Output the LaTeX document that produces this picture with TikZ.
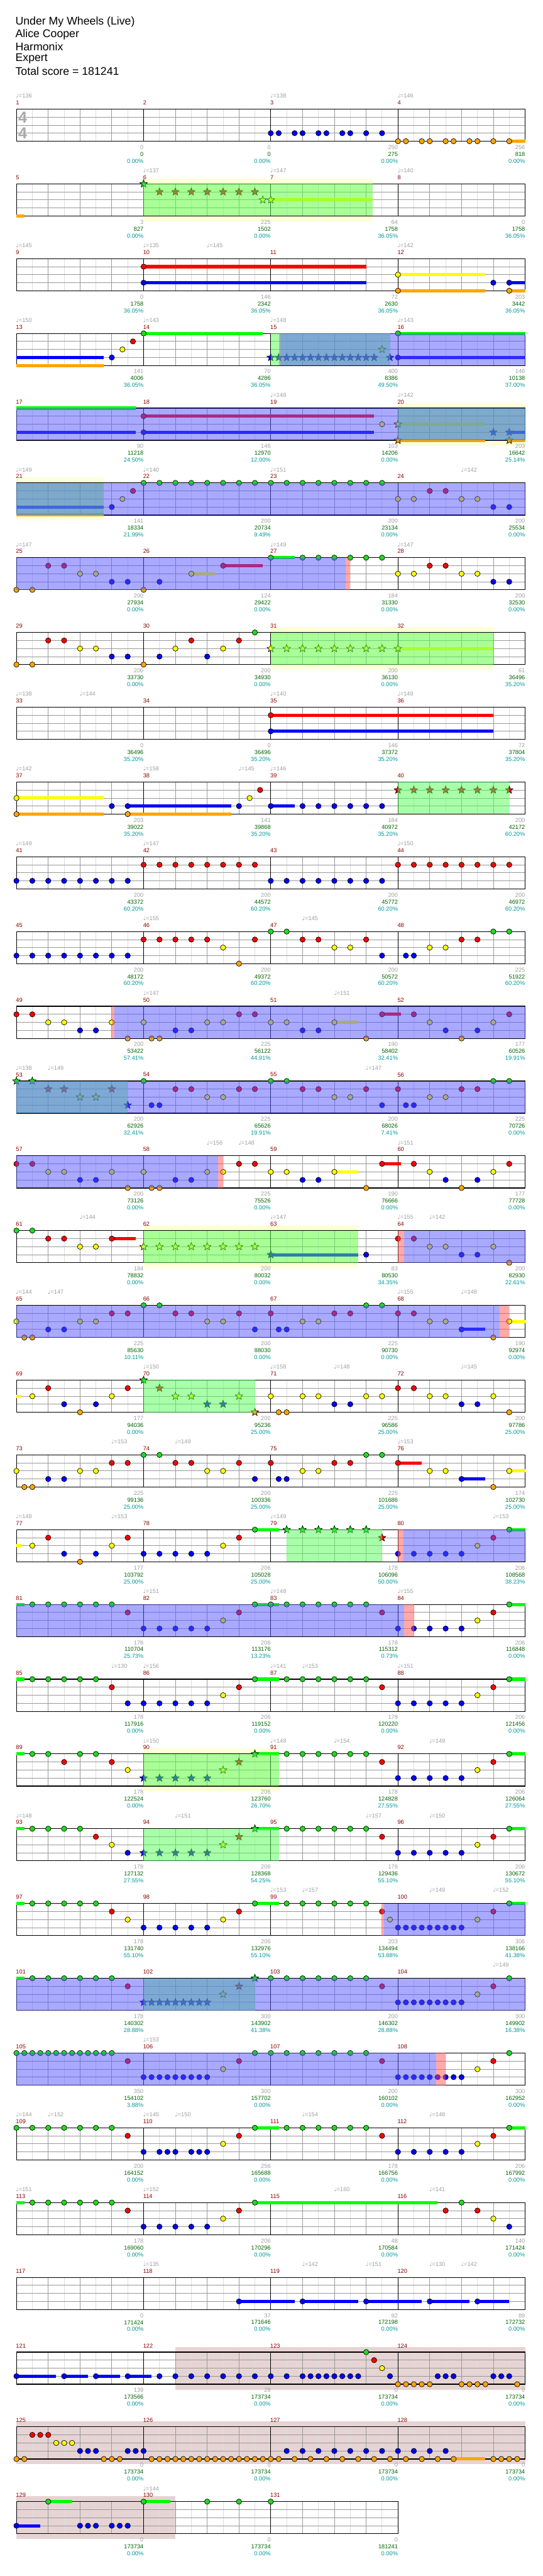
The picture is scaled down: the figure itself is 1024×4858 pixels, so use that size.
\documentclass[tikz,border=0pt]{standalone}
\usepackage{fontspec}
\setmainfont{Liberation Sans}
\newfontfamily\notefont{DejaVu Sans}
\usetikzlibrary{shapes.geometric}
\pgfdeclarelayer{back}
\pgfdeclarelayer{spLayer}
\pgfdeclarelayer{odLayer}
\pgfsetlayers{back,main,spLayer,odLayer}
\definecolor{gemGreen}{HTML}{1EDC1E}
\definecolor{gemRed}{HTML}{FF0000}
\definecolor{gemYellow}{HTML}{FFFF00}
\definecolor{gemBlue}{HTML}{0000FF}
\definecolor{gemOrange}{HTML}{FFA500}
\definecolor{holdGreen}{HTML}{00FF00}
\definecolor{lightGray}{HTML}{DDDDDD}
\definecolor{midGray}{HTML}{999999}
\definecolor{sigGray}{HTML}{AAAAAA}
\definecolor{barRed}{HTML}{8B0000}
\definecolor{tempoGray}{HTML}{A0A0A0}
\definecolor{scoreGreen}{HTML}{006400}
\definecolor{scoreCyan}{HTML}{009999}
\definecolor{haloYellow}{HTML}{FFFFD8}
\definecolor{soloRose}{HTML}{E6D4D4}
\definecolor{spGreen}{HTML}{55FF55}
\definecolor{odBlue}{HTML}{5555FF}
\definecolor{stopRed}{HTML}{FF5555}
\tikzset{
  gem0/.style={fill=gemGreen, draw=black, line width=0.8},
  gem1/.style={fill=gemRed, draw=black, line width=0.8},
  gem2/.style={fill=gemYellow, draw=black, line width=0.8},
  gem3/.style={fill=gemBlue, draw=black, line width=0.8},
  gem4/.style={fill=gemOrange, draw=black, line width=0.8},
  hold0/.style={draw=holdGreen, line width=6},
  hold1/.style={draw=gemRed, line width=6},
  hold2/.style={draw=gemYellow, line width=6},
  hold3/.style={draw=gemBlue, line width=6},
  hold4/.style={draw=gemOrange, line width=6},
  starnote/.style={star, star points=5, star point ratio=2.3, minimum size=15,
                   inner sep=0pt},
  gridLight/.style={draw=lightGray, line width=1},
  gridDark/.style={draw=midGray, line width=1},
  barLine/.style={draw=black, line width=1},
  staffEdge/.style={draw=black, line width=1.4},
  spFill/.style={fill=spGreen, fill opacity=0.5},
  odFill/.style={fill=odBlue, fill opacity=0.5},
  stopFill/.style={fill=stopRed, fill opacity=0.5},
  haloFill/.style={fill=haloYellow},
  soloFill/.style={fill=soloRose},
  barnum/.style={text=barRed, font=\fontsize{11}{11}\selectfont, inner sep=0pt, anchor=west},
  tempolbl/.style={text=tempoGray, font=\fontsize{11}{11}\selectfont, inner sep=0pt, anchor=west},
  lblGray/.style={text=tempoGray, font=\fontsize{11}{11}\selectfont, inner sep=0pt, anchor=east},
  lblGreen/.style={text=scoreGreen, font=\fontsize{11}{11}\selectfont, inner sep=0pt, anchor=east},
  lblCyan/.style={text=scoreCyan, font=\fontsize{11}{11}\selectfont, inner sep=0pt, anchor=east},
  titletext/.style={font=\fontsize{21}{21}\selectfont, inner sep=0pt, anchor=west},
  timesig/.style={text=sigGray, font=\bfseries\fontsize{30}{30}\selectfont, inner sep=0pt},
}
% one staff row: row index, number of measures
\newcommand\staff[2]{%
  \pgfmathsetmacro\ty{205.7+141*#1}%
  \pgfmathsetmacro\xr{31+240*#2}%
  \pgfmathtruncatemacro\nk{8*#2}%
  \pgfmathtruncatemacro\nm{#2-1}%
  \draw[gridLight] foreach \k in {1,3,...,\nk} {(31+30*\k,\ty) -- ++(0,60.6)};%
  \draw[gridDark] foreach \k in {2,4,...,\nk} {(31+30*\k,\ty) -- ++(0,60.6)};%
  \draw[gridDark] foreach \l in {1,2,3} {(31,\ty+15.15*\l) -- (\xr,\ty+15.15*\l)};%
  \draw[barLine] foreach \m in {1,...,\nm} {(31+240*\m,\ty) -- ++(0,60.6)};%
  \draw[staffEdge] (31,\ty) rectangle (\xr,\ty+60.6);%
  \foreach \m in {1,...,#2}{%
    \pgfmathtruncatemacro\mn{4*#1+\m}%
    \node[barnum] (bar\mn) at (30+240*\m-240,\ty-12) {\mn};}%
}
% notes: row, lane, positions in eighths
\newcommand\gems[3]{%
  \pgfmathsetmacro\gy{205.7+141*#1+15.15*#2}%
  \foreach \p in {#3}{\filldraw[gem#2] (31+30*\p,\gy) circle[radius=5pt];}}
\newcommand\hold[4]{%
  \pgfmathsetmacro\gy{205.7+141*#1+15.15*#2}%
  \draw[hold#2] (31+30*#3,\gy) -- (31+30*#4,\gy);}
\newcommand\starset[3]{%
  \pgfmathsetmacro\gy{205.7+141*#1+15.15*#2}%
  \foreach \p [count=\idx] in {#3}{%
    \node[starnote, gem#2] (star-#1-#2-\idx) at (31+30*\p,\gy) {};}}
% shaded zones
\newcommand\spzone[3]{\pgfmathsetmacro\ty{205.7+141*#1}%
  \begin{pgfonlayer}{spLayer}\fill[spFill] (31+30*#2,\ty) rectangle (31+30*#3,\ty+60.6);\end{pgfonlayer}}
\newcommand\odrive[3]{\pgfmathsetmacro\ty{205.7+141*#1}%
  \begin{pgfonlayer}{odLayer}\fill[odFill] (31+30*#2,\ty) rectangle (31+30*#3,\ty+60.6);\end{pgfonlayer}}
\newcommand\redzone[3]{\pgfmathsetmacro\ty{205.7+141*#1}%
  \begin{pgfonlayer}{odLayer}\fill[stopFill] (31+30*#2,\ty) rectangle (31+30*#3,\ty+60.6);\end{pgfonlayer}}
\newcommand\halo[3]{\pgfmathsetmacro\ty{205.7+141*#1}%
  \begin{pgfonlayer}{back}\fill[haloFill] (31+30*#2,\ty-10) rectangle (31+30*#3,\ty+70.6);\end{pgfonlayer}}
\newcommand\solo[3]{\pgfmathsetmacro\ty{205.7+141*#1}%
  \begin{pgfonlayer}{back}\fill[soloFill] (31+30*#2,\ty-10) rectangle (31+30*#3,\ty+70.6);\end{pgfonlayer}}
% labels under and above the staff
\newcommand\scores[2]{%
  \pgfmathsetmacro\ty{205.7+141*#1}%
  \foreach \ga/\sc/\pc [count=\idx] in {#2}{%
    \pgfmathtruncatemacro\mn{4*#1+\idx}%
    \node[lblGray] (gain\mn) at (31+240*\idx,\ty+72) {\ga};%
    \node[lblGreen] (total\mn) at (31+240*\idx,\ty+85) {\sc};%
    \node[lblCyan] (pct\mn) at (31+240*\idx,\ty+98) {\pc\%};}}
\newcommand\tempos[2]{%
  \pgfmathsetmacro\ty{205.7+141*#1}%
  \foreach \tp/\bpm [count=\idx] in {#2}{%
    \node[tempolbl] (tempo-#1-\idx) at (30+30*\tp,\ty-25) {{\notefont ♩}=\bpm};}}

\begin{document}
\begin{tikzpicture}[x=1pt, y=-1pt]
  \useasboundingbox (0,0) rectangle (1024,4858);
  \begin{pgfonlayer}{back}\fill[white] (0,0) rectangle (1024,4858);\end{pgfonlayer}

  % header
  \node[titletext] (song) at (29,41.7) {Under My Wheels (Live)};
  \node[titletext] (artist) at (29,65) {Alice Cooper};
  \node[titletext] (charter) at (29,88.3) {Harmonix};
  \node[titletext] (level) at (29,111) {Expert};
  \node[titletext] (total) at (29,134) {Total score = 181241};

  % row 0: measures 1-4
  \staff{0}{4}
  \node[timesig] (sigTop) at (43,221) {4};
  \node[timesig] (sigBot) at (43,251) {4};
  \gems{0}{3}{16,16.5,17.5,18,19,19.5,20.5,21,22,23}
  \hold{0}{4}{31}{32}
  \gems{0}{4}{24,24.5,25.5,26,27,27.5,28.5,29,30,31}
  \scores{0}{0/0/0.00,0/0/0.00,250/275/0.00,256/818/0.00}
  \tempos{0}{0/136,16/138,24/146}

  % row 1: measures 5-8
  \halo{1}{8}{22.4}
  \staff{1}{4}
  \hold{1}{4}{0}{0.5}
  \starset{1}{0}{8}
  \starset{1}{1}{9,...,15}
  \hold{1}{2}{16}{22.4}
  \starset{1}{2}{15.5,16}
  \spzone{1}{8}{22.4}
  \scores{1}{3/827/0.00,225/1502/0.00,64/1758/36.05,0/1758/36.05}
  \tempos{1}{8/137,16/147,24/140}

  % row 2: measures 9-12
  \staff{2}{4}
  \hold{2}{1}{8}{22} \gems{2}{1}{8}
  \hold{2}{3}{8}{22} \gems{2}{3}{8}
  \hold{2}{2}{24}{29.5} \gems{2}{2}{24}
  \hold{2}{4}{24}{29.5} \gems{2}{4}{24}
  \hold{2}{3}{31}{32} \gems{2}{3}{30,31}
  \hold{2}{4}{31}{32} \gems{2}{4}{31}
  \scores{2}{0/1758/36.05,146/2342/36.05,72/2630/36.05,203/3442/36.05}
  \tempos{2}{0/145,8/135,12/145,24/142}

  % row 3: measures 13-16
  \staff{3}{4}
  \hold{3}{3}{0}{5.5} \hold{3}{4}{0}{5.5}
  \gems{3}{3}{6} \gems{3}{2}{6.67} \gems{3}{1}{7.33}
  \hold{3}{0}{8}{15.5} \gems{3}{0}{8}
  \starset{3}{3}{16,16.5,...,22.5}
  \starset{3}{2}{23} \starset{3}{3}{23.5}
  \hold{3}{3}{24}{32} \gems{3}{3}{24}
  \hold{3}{0}{24}{32} \gems{3}{0}{24}
  \spzone{3}{16}{23.5}
  \redzone{3}{16.5}{16.6}
  \odrive{3}{16.6}{32}
  \scores{3}{141/4006/36.05,70/4286/36.05,400/8386/49.50,146/10138/37.00}
  \tempos{3}{0/150,8/143,16/148,24/143}

  % row 4: measures 17-20
  \halo{4}{24}{32}
  \staff{4}{4}
  \hold{4}{0}{0}{7.5} \hold{4}{3}{0}{7.5}
  \hold{4}{1}{8}{22.5} \gems{4}{1}{8}
  \hold{4}{3}{8}{22.5} \gems{4}{3}{8}
  \gems{4}{2}{23}
  \hold{4}{2}{24}{29.5} \starset{4}{2}{24}
  \hold{4}{4}{24}{29.5} \starset{4}{4}{24}
  \hold{4}{3}{31}{32} \starset{4}{3}{30,31}
  \hold{4}{4}{31}{32} \starset{4}{4}{31}
  \spzone{4}{24}{32}
  \odrive{4}{0}{32}
  \scores{4}{90/11218/24.50,146/12970/12.00,103/14206/0.00,203/16642/25.14}
  \tempos{4}{16/148,24/142}

  % row 5: measures 21-24
  \halo{5}{0}{5.5}
  \staff{5}{4}
  \hold{5}{3}{0}{5.5} \hold{5}{4}{0}{5.5}
  \gems{5}{3}{6} \gems{5}{2}{6.67} \gems{5}{1}{7.33}
  \gems{5}{0}{8,...,23}
  \gems{5}{2}{24,25,28,29} \gems{5}{1}{26,27} \gems{5}{3}{30,31}
  \spzone{5}{0}{5.5}
  \odrive{5}{0}{32}
  \scores{5}{141/18334/21.99,200/20734/9.49,200/23134/0.00,200/25534/0.00}
  \tempos{5}{0/149,8/140,16/151,28/142}

  % row 6: measures 25-28
  \staff{6}{4}
  \gems{6}{4}{0,1,8} \gems{6}{1}{2,3} \gems{6}{2}{4,5} \gems{6}{3}{6,7,9}
  \hold{6}{2}{11}{12.5} \gems{6}{2}{11}
  \hold{6}{1}{13}{15.5} \gems{6}{1}{13}
  \hold{6}{0}{16}{17.5} \gems{6}{0}{16,18,19,20,21,22,23}
  \gems{6}{2}{24,25,28,29} \gems{6}{1}{26,27} \gems{6}{3}{30,31}
  \odrive{6}{0}{20.7} \redzone{6}{20.7}{21}
  \scores{6}{200/27934/0.00,124/29422/0.00,184/31330/0.00,200/32530/0.00}
  \tempos{6}{0/147,16/149,24/147}

  % row 7: measures 29-32
  \halo{7}{16}{30}
  \staff{7}{4}
  \gems{7}{4}{0,1,8} \gems{7}{1}{2,3,11,14} \gems{7}{2}{4,5,10,13}
  \gems{7}{3}{6,7,9,12} \gems{7}{0}{15}
  \hold{7}{2}{24}{30} \starset{7}{2}{16,...,24}
  \spzone{7}{16}{30}
  \scores{7}{200/33730/0.00,200/34930/0.00,200/36130/0.00,61/36496/35.20}

  % row 8: measures 33-36
  \staff{8}{4}
  \hold{8}{1}{16}{30} \gems{8}{1}{16}
  \hold{8}{3}{16}{30} \gems{8}{3}{16}
  \scores{8}{0/36496/35.20,0/36496/35.20,146/37372/35.20,72/37804/35.20}
  \tempos{8}{0/138,4/144,16/140,24/149}

  % row 9: measures 37-40
  \staff{9}{4}
  \hold{9}{2}{0}{5.5} \gems{9}{2}{0}
  \hold{9}{4}{0}{5.5} \gems{9}{4}{0}
  \gems{9}{3}{6}
  \hold{9}{3}{7}{13.5} \gems{9}{3}{7}
  \hold{9}{4}{7}{13.5} \gems{9}{4}{7}
  \gems{9}{3}{14} \gems{9}{2}{14.67} \gems{9}{1}{15.33}
  \hold{9}{3}{16}{17.5} \gems{9}{3}{16,18,19,20,21,22,23}
  \starset{9}{1}{24,...,31}
  \spzone{9}{24}{31}
  \scores{9}{203/39022/35.20,141/39868/35.20,184/40972/35.20,200/42172/60.20}
  \tempos{9}{0/142,8/158,14/145,16/146}

  % row 10: measures 41-44
  \staff{10}{4}
  \gems{10}{3}{0,...,7} \gems{10}{1}{8,...,15}
  \gems{10}{3}{16,...,23} \gems{10}{1}{24,...,31}
  \scores{10}{200/43372/60.20,200/44572/60.20,200/45772/60.20,200/46972/60.20}
  \tempos{10}{0/149,8/147,24/150}

  % row 11: measures 45-48
  \staff{11}{4}
  \gems{11}{3}{0,...,7} \gems{11}{1}{8,...,12}
  \gems{11}{2}{13,20,21,26,27} \gems{11}{4}{14}
  \gems{11}{1}{15,18,19,22,28,29} \gems{11}{0}{16,17,30,31}
  \gems{11}{3}{23,24.5,25}
  \scores{11}{200/48172/60.20,200/49372/60.20,200/50572/60.20,225/51922/60.20}
  \tempos{11}{8/155,18/145}

  % row 12: measures 49-52
  \staff{12}{4}
  \gems{12}{1}{0,1,14,15,25,31}
  \gems{12}{2}{2,3,6,8,12,13,16,17,26,30}
  \gems{12}{3}{4,5,10,11,18,19,27,29}
  \gems{12}{4}{7,8.5,9,22,28}
  \hold{12}{2}{20}{21.5} \gems{12}{2}{20}
  \hold{12}{1}{23}{24.2} \gems{12}{1}{23}
  \redzone{12}{6}{6.15} \odrive{12}{6.15}{32}
  \scores{12}{200/53422/57.41,225/56122/44.91,190/58402/32.41,177/60526/19.91}
  \tempos{12}{8/147,20/151}

  % row 13: measures 53-56
  \staff{13}{4}
  \starset{13}{0}{0,1} \starset{13}{1}{2,3,6} \starset{13}{2}{4,5} \starset{13}{3}{7}
  \gems{13}{0}{8,16,17,30,31}
  \gems{13}{3}{8.5,9,23,24.5,25}
  \gems{13}{1}{10,11,14,15,18,19,22,24,28,29}
  \gems{13}{2}{12,13,20,21,26,27}
  \spzone{13}{0}{7} \odrive{13}{0}{32}
  \scores{13}{200/62926/32.41,225/65626/19.91,200/68026/7.41,225/70726/0.00}
  \tempos{13}{0/138,2/149,22/147}

  % row 14: measures 57-60
  \staff{14}{4}
  \gems{14}{1}{0,1,14,15,25,31}
  \gems{14}{2}{2,3,6,8,12,13,16,17,26,30}
  \gems{14}{3}{4,5,10,11,18,19,27,29}
  \gems{14}{4}{7,8.5,9,22,28}
  \hold{14}{2}{20}{21.5} \gems{14}{2}{20}
  \hold{14}{1}{23}{24.2} \gems{14}{1}{23}
  \odrive{14}{0}{12.7} \redzone{14}{12.7}{13}
  \scores{14}{200/73126/0.00,225/75526/0.00,190/76666/0.00,177/77728/0.00}
  \tempos{14}{12/156,14/148,24/151}

  % row 15: measures 61-64
  \halo{15}{8}{21.5}
  \staff{15}{4}
  \gems{15}{0}{0,1} \gems{15}{1}{2,3} \gems{15}{2}{4,5}
  \hold{15}{1}{6}{7.5} \gems{15}{1}{6}
  \starset{15}{2}{8,...,15}
  \hold{15}{3}{16}{21.5} \starset{15}{3}{16}
  \gems{15}{3}{22,28,29} \gems{15}{1}{24,25} \gems{15}{2}{26,27,30} \gems{15}{4}{31}
  \spzone{15}{8}{21.5}
  \redzone{15}{24}{24.4} \odrive{15}{24.4}{32}
  \scores{15}{184/78832/0.00,200/80032/0.00,83/80530/34.35,200/82930/22.61}
  \tempos{15}{4/144,16/147,24/155,26/142}

  % row 16: measures 65-68
  \staff{16}{4}
  \gems{16}{2}{0,4,5,12,13,18,19,26,27} \gems{16}{4}{0.5,1,30}
  \gems{16}{3}{2,3,15,16.5,17} \gems{16}{1}{6,7,10,11,14,16,20,21,24,25}
  \gems{16}{0}{8,9,22,23}
  \hold{16}{3}{28}{29.5} \gems{16}{3}{28}
  \hold{16}{2}{31}{32} \gems{16}{2}{31}
  \odrive{16}{0}{30.4} \redzone{16}{30.4}{31}
  \scores{16}{225/85630/10.11,200/88030/0.00,225/90730/0.00,190/92974/0.00}
  \tempos{16}{0/144,2/147,24/155,28/148}

  % row 17: measures 69-72
  \staff{17}{4}
  \hold{17}{2}{0}{0.3}
  \gems{17}{2}{1,6,16,18,19,22,23,26,27,30} \gems{17}{1}{2,7,24,25}
  \gems{17}{3}{3,5,20,21,28,29} \gems{17}{4}{4,16.5,17,31}
  \starset{17}{0}{8} \starset{17}{1}{9} \starset{17}{2}{10,11,14}
  \starset{17}{3}{12,13} \starset{17}{4}{15}
  \spzone{17}{8}{15}
  \scores{17}{177/94036/0.00,200/95236/25.00,225/96586/25.00,200/97786/25.00}
  \tempos{17}{8/150,16/158,20/148,28/145}

  % row 18: measures 73-76
  \staff{18}{4}
  \gems{18}{2}{0,4,5,12,13,18,19,26,27} \gems{18}{4}{0.5,1,30}
  \gems{18}{3}{2,3,15,16.5,17} \gems{18}{1}{6,7,10,11,14,16,20,21}
  \gems{18}{0}{8,9,22,23}
  \hold{18}{1}{24}{25.5} \gems{18}{1}{24}
  \hold{18}{3}{28}{29.5} \gems{18}{3}{28}
  \hold{18}{2}{31}{32} \gems{18}{2}{31}
  \scores{18}{225/99136/25.00,200/100336/25.00,225/101686/25.00,174/102730/25.00}
  \tempos{18}{6/153,10/149,24/153}

  % row 19: measures 77-80
  \staff{19}{4}
  \hold{19}{2}{0}{0.3}
  \gems{19}{2}{1,6,13,29} \gems{19}{1}{2,7,14,30}
  \gems{19}{3}{3,5,8,9,10,11,12,24,25,26,27,28} \gems{19}{4}{4}
  \hold{19}{0}{15}{16.5} \gems{19}{0}{15}
  \starset{19}{0}{17,...,22} \starset{19}{1}{23}
  \hold{19}{0}{31}{32} \gems{19}{0}{31}
  \spzone{19}{17}{23}
  \redzone{19}{24}{24.35} \odrive{19}{24.35}{32}
  \scores{19}{177/103792/25.00,206/105028/25.00,178/106096/50.00,206/108568/38.23}
  \tempos{19}{0/148,6/153,16/149,30/153}

  % row 20: measures 81-84
  \staff{20}{4}
  \hold{20}{0}{0}{0.5}
  \gems{20}{0}{1,...,6} \gems{20}{1}{7,14,23,30}
  \gems{20}{3}{8,...,12} \gems{20}{3}{24,...,28} \gems{20}{2}{13,29}
  \hold{20}{0}{15}{16.5} \gems{20}{0}{15,...,22}
  \hold{20}{0}{31}{32} \gems{20}{0}{31}
  \odrive{20}{0}{24.4} \redzone{20}{24.4}{25}
  \scores{20}{178/110704/25.73,206/113176/13.23,178/115312/0.73,206/116848/0.00}
  \tempos{20}{8/151,16/148,24/155}

  % row 21: measures 85-88
  \staff{21}{4}
  \hold{21}{0}{0}{0.5}
  \gems{21}{0}{1,...,5} \gems{21}{1}{6,14,23,30}
  \gems{21}{3}{7,...,12} \gems{21}{3}{24,...,28} \gems{21}{2}{13,29}
  \hold{21}{0}{15}{16.5} \gems{21}{0}{15,17,18,19,20,21,22}
  \hold{21}{0}{31}{32} \gems{21}{0}{31}
  \scores{21}{178/117916/0.00,206/119152/0.00,178/120220/0.00,206/121456/0.00}
  \tempos{21}{6/130,8/156,16/141,18/153,24/151}

  % row 22: measures 89-92
  \halo{22}{8}{16.5}
  \staff{22}{4}
  \hold{22}{0}{0}{0.5}
  \gems{22}{0}{1,2,4,5} \gems{22}{0}{17,...,22}
  \gems{22}{1}{3,6,23,30} \gems{22}{2}{7,29} \gems{22}{3}{24,...,28}
  \starset{22}{3}{8,...,12} \starset{22}{2}{13} \starset{22}{1}{14}
  \hold{22}{0}{15}{16.5} \starset{22}{0}{15}
  \hold{22}{0}{31}{32} \gems{22}{0}{31}
  \spzone{22}{8}{16.5}
  \scores{22}{178/122524/0.00,206/123760/26.70,178/124828/27.55,206/126064/27.55}
  \tempos{22}{8/150,16/148,20/154,26/149}

  % row 23: measures 93-96
  \staff{23}{4}
  \hold{23}{0}{0}{0.5}
  \gems{23}{0}{1,2,3,4} \gems{23}{0}{17,...,22}
  \gems{23}{1}{5,23,30} \gems{23}{2}{6,29} \gems{23}{3}{7} \gems{23}{3}{24,...,28}
  \starset{23}{3}{8,...,12} \starset{23}{2}{13} \starset{23}{1}{14}
  \hold{23}{0}{15}{16.5} \starset{23}{0}{15}
  \hold{23}{0}{31}{32} \gems{23}{0}{31}
  \spzone{23}{8}{16.5}
  \scores{23}{178/127132/27.55,206/128368/54.25,178/129436/55.10,206/130672/55.10}
  \tempos{23}{0/148,10/151,22/157,26/150}

  % row 24: measures 97-100
  \staff{24}{4}
  \hold{24}{0}{0}{0.5}
  \gems{24}{0}{1,...,5} \gems{24}{0}{17,...,22}
  \gems{24}{1}{6,14,23,30} \gems{24}{2}{7,13,23.5,29}
  \gems{24}{3}{8,...,12} \gems{24}{3}{24,24.5,...,28}
  \hold{24}{0}{15}{16.5} \gems{24}{0}{15}
  \hold{24}{0}{31}{32} \gems{24}{0}{31}
  \redzone{24}{22.96}{23.13} \odrive{24}{23.13}{32}
  \scores{24}{178/131740/55.10,206/132976/55.10,203/134494/53.88,306/138166/41.38}
  \tempos{24}{16/153,18/157,26/149,30/152}

  % row 25: measures 101-104
  \staff{25}{4}
  \hold{25}{0}{0}{0.5}
  \gems{25}{0}{1,...,6} \gems{25}{0}{16,...,22} \gems{25}{0}{31}
  \gems{25}{1}{7,23,30} \gems{25}{3}{24,24.5,...,28} \gems{25}{2}{29}
  \starset{25}{3}{8,8.5,...,12} \starset{25}{2}{13} \starset{25}{1}{14} \starset{25}{0}{15}
  \spzone{25}{8}{15} \odrive{25}{0}{32}
  \scores{25}{178/140302/28.88,300/143902/41.38,200/146302/28.88,300/149902/16.38}
  \tempos{25}{30/149}

  % row 26: measures 105-108
  \staff{26}{4}
  \gems{26}{0}{0,0.5,...,6} \gems{26}{0}{15,...,22} \gems{26}{0}{31}
  \gems{26}{1}{7,14,23,30} \gems{26}{2}{13,29}
  \gems{26}{3}{8,8.5,...,12} \gems{26}{3}{24,24.5,...,28}
  \odrive{26}{0}{26.4} \redzone{26}{26.4}{27}
  \scores{26}{350/154102/3.88,300/157702/0.00,200/160102/0.00,300/162952/0.00}
  \tempos{26}{8/153}

  % row 27: measures 109-112
  \staff{27}{4}
  \gems{27}{0}{0,...,6} \gems{27}{0}{17,...,22}
  \gems{27}{1}{7,14,23,30} \gems{27}{2}{13,29}
  \gems{27}{3}{8,9,9.5,10,11,11.5,12} \gems{27}{3}{24,...,28}
  \hold{27}{0}{15}{16.5} \gems{27}{0}{15}
  \hold{27}{0}{31}{32} \gems{27}{0}{31}
  \scores{27}{200/164152/0.00,256/165688/0.00,178/166756/0.00,206/167992/0.00}
  \tempos{27}{0/144,2/152,8/145,10/150,18/154,26/148}

  % row 28: measures 113-116
  \staff{28}{4}
  \hold{28}{0}{0}{0.5}
  \gems{28}{0}{1,...,6} \gems{28}{1}{7,14,27,29}
  \gems{28}{3}{8,...,12} \gems{28}{2}{13,30}
  \hold{28}{0}{15}{26.5} \gems{28}{0}{15,28}
  \gems{28}{3}{31}
  \scores{28}{178/169060/0.00,206/170296/0.00,48/170584/0.00,140/171424/0.00}
  \tempos{28}{0/151,8/152,20/160,26/141}

  % row 29: measures 117-120
  \staff{29}{4}
  \hold{29}{3}{14}{17.5} \hold{29}{3}{18}{21.5} \hold{29}{3}{22}{25.5}
  \hold{29}{3}{26}{28.5} \hold{29}{3}{29}{31}
  \gems{29}{3}{14,18,22,26,29}
  \scores{29}{0/171424/0.00,37/171646/0.00,92/172198/0.00,89/172732/0.00}
  \tempos{29}{8/135,18/142,22/151,26/130,28/142}

  % row 30: measures 121-124
  \solo{30}{10}{32}
  \staff{30}{4}
  \hold{30}{3}{0}{2.5} \hold{30}{3}{3}{4.5} \hold{30}{3}{5}{6.5} \hold{30}{3}{7}{8.5}
  \gems{30}{3}{0,3,5,7} \gems{30}{3}{9,...,17} \gems{30}{3}{18,18.5,...,21.5}
  \gems{30}{3}{23.5,26.5,27,27.5,30,30.5,31}
  \gems{30}{0}{22} \gems{30}{1}{22.5} \gems{30}{2}{23}
  \gems{30}{4}{24,24.5,...,26} \gems{30}{4}{28,28.5,...,29.5} \gems{30}{4}{31.5}
  \scores{30}{139/173566/0.00,28/173734/0.00,0/173734/0.00,0/173734/0.00}

  % row 31: measures 125-128
  \solo{31}{0}{32}
  \staff{31}{4}
  \gems{31}{4}{0,0.5,5.5,6,6.5} \gems{31}{4}{8.5,9,...,16.5}
  \gems{31}{1}{1,1.5,2} \gems{31}{2}{2.5,3,3.5}
  \gems{31}{3}{4,4.5,5,7,7.5,8} \gems{31}{3}{17,...,27}
  \hold{31}{4}{27.5}{29.5}
  \gems{31}{4}{17.5,18.5,...,27.5} \gems{31}{4}{30,30.5,31,31.5}
  \scores{31}{0/173734/0.00,0/173734/0.00,0/173734/0.00,0/173734/0.00}

  % row 32: measures 129-131
  \solo{32}{0}{10}
  \staff{32}{3}
  \hold{32}{3}{0}{1.5} \gems{32}{3}{0}
  \hold{32}{0}{2}{3.5} \gems{32}{0}{2}
  \gems{32}{3}{4,4.5,5,6,6.5,7}
  \hold{32}{0}{8}{9.7} \gems{32}{0}{8,12,14,16}
  \scores{32}{0/173734/0.00,0/173734/0.00,0/181241/0.00}
  \tempos{32}{8/144}
\end{tikzpicture}
\end{document}
